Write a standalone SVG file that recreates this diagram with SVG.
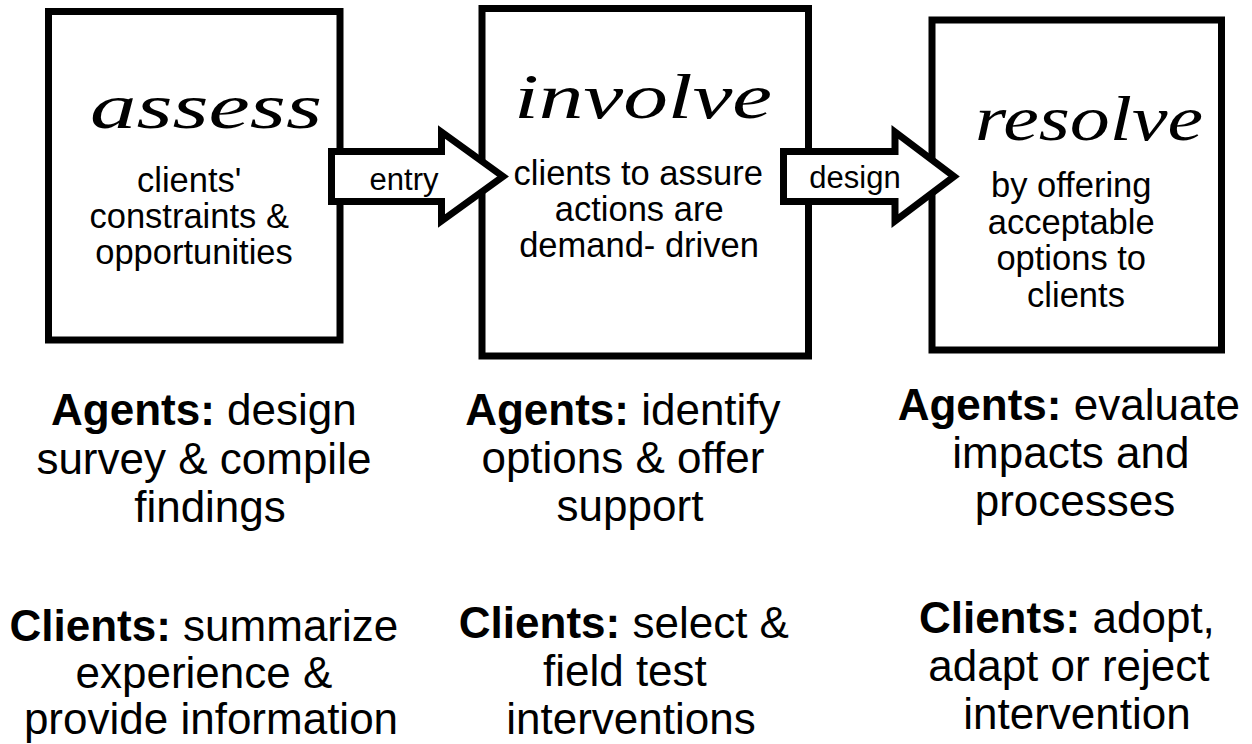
<svg xmlns="http://www.w3.org/2000/svg" width="1252" height="744" viewBox="0 0 1252 744">
  <style>
    .box { fill: #ffffff; stroke: #000000; stroke-width: 7; stroke-linejoin: miter; }
    .arrow { fill: #ffffff; stroke: #000000; stroke-width: 7; stroke-linejoin: miter; stroke-miterlimit: 10; }
    .title { font-family: "Liberation Serif", "DejaVu Serif", serif; font-style: italic; font-size: 64px; fill: #000; text-anchor: middle; }
    .body { font-family: "Liberation Sans", Arial, sans-serif; font-size: 34.5px; fill: #000; text-anchor: middle; }
    .label { font-family: "Liberation Sans", Arial, sans-serif; font-size: 31px; fill: #000; text-anchor: middle; }
    .note { font-family: "Liberation Sans", Arial, sans-serif; font-size: 44px; fill: #000; text-anchor: middle; }
    .b { font-weight: bold; }
  </style>
  <rect width="1252" height="744" fill="#ffffff"/>

  <!-- stage: assess -->
  <g id="assess">
    <rect class="box" x="48.5" y="11.5" width="291.5" height="328.5"/>
    <text class="title" x="206" y="128" textLength="232" lengthAdjust="spacingAndGlyphs">assess</text>
    <text class="body">
      <tspan x="194" y="192">clients'</tspan>
      <tspan x="194" y="228">constraints &amp;</tspan>
      <tspan x="194" y="264">opportunities</tspan>
    </text>
  </g>

  <!-- stage: involve -->
  <g id="involve">
    <rect class="box" x="482" y="8.5" width="326.5" height="347.5"/>
    <text class="title" x="643" y="118" textLength="258" lengthAdjust="spacingAndGlyphs">involve</text>
    <text class="body">
      <tspan x="643" y="185">clients to assure</tspan>
      <tspan x="644" y="221">actions are</tspan>
      <tspan x="639" y="257">demand- driven</tspan>
    </text>
  </g>

  <!-- stage: resolve -->
  <g id="resolve">
    <rect class="box" x="932" y="20" width="289.5" height="330"/>
    <text class="title" x="1089" y="140" textLength="228" lengthAdjust="spacingAndGlyphs">resolve</text>
    <text class="body">
      <tspan x="1076" y="197">by offering</tspan>
      <tspan x="1076" y="233.5">acceptable</tspan>
      <tspan x="1076" y="270">options to</tspan>
      <tspan x="1076" y="306.5">clients</tspan>
    </text>
  </g>

  <!-- block arrows between stages -->
  <g id="connectors">
    <g id="entry">
      <polygon class="arrow" points="331.5,151.5 441.5,151.5 441.5,132 503,176.5 441.5,221 441.5,201.5 331.5,201.5"/>
      <text class="label" x="404" y="190">entry</text>
    </g>
    <g id="design">
      <polygon class="arrow" points="783.5,151.5 895,151.5 895,132 954,176.5 895,221 895,201.5 783.5,201.5"/>
      <text class="label" x="855" y="188">design</text>
    </g>
  </g>

  <!-- roles under each stage -->
  <g id="assess-roles">
    <text class="note">
      <tspan x="210" y="425"><tspan class="b">Agents:</tspan> design</tspan>
      <tspan x="210" y="474">survey &amp; compile</tspan>
      <tspan x="210" y="522">findings</tspan>
    </text>
    <text class="note">
      <tspan x="210" y="641"><tspan class="b">Clients:</tspan> summarize</tspan>
      <tspan x="210" y="688">experience &amp;</tspan>
      <tspan x="211" y="734">provide information</tspan>
    </text>
  </g>
  <g id="involve-roles">
    <text class="note">
      <tspan x="629" y="425"><tspan class="b">Agents:</tspan> identify</tspan>
      <tspan x="629" y="473">options &amp; offer</tspan>
      <tspan x="630" y="521">support</tspan>
    </text>
    <text class="note">
      <tspan x="630" y="638"><tspan class="b">Clients:</tspan> select &amp;</tspan>
      <tspan x="631" y="686">field test</tspan>
      <tspan x="631" y="734">interventions</tspan>
    </text>
  </g>
  <g id="resolve-roles">
    <text class="note">
      <tspan x="1075" y="420"><tspan class="b">Agents:</tspan> evaluate</tspan>
      <tspan x="1077" y="468">impacts and</tspan>
      <tspan x="1075" y="516">processes</tspan>
    </text>
    <text class="note">
      <tspan x="1073" y="633"><tspan class="b">Clients:</tspan> adopt,</tspan>
      <tspan x="1075" y="681">adapt or reject</tspan>
      <tspan x="1077" y="729">intervention</tspan>
    </text>
  </g>
</svg>
